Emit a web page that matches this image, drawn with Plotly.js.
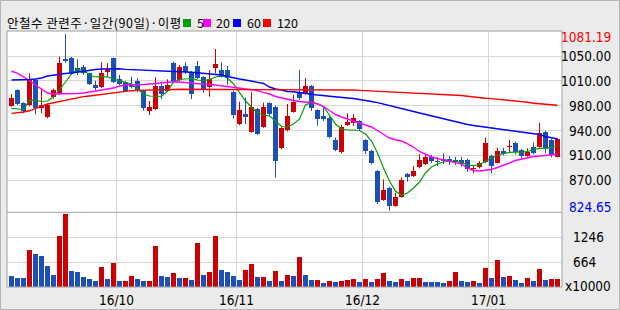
<!DOCTYPE html>
<html><head><meta charset="utf-8">
<script src="https://cdn.plot.ly/plotly-3.0.1.min.js"></script>
<style>html,body{margin:0;padding:0;background:#ebebeb;}#chart{width:620px;height:310px;}</style>
</head><body><div id="chart"></div>
<script>
// ---- data ----
const opens = [977.1,999.9,980.6,978.1,1014.4,973.3,961.1,989.3,995.9,1044.9,
1046.8,1031.4,1033.7,1024.1,1007.1,1004.7,1026.5,1046.3,1015.9,1011.9,
1008.2,1012.9,998.9,969.9,972.3,1005.7,998.4,1039.5,1014.4,1034.7,
1026.5,1034.7,1018.3,1004.7,1032.2,1028.9,1028.9,997.4,950.5,965.0,
939.4,972.3,946.6,980.6,975.6,916.1,941.8,968.4,997.4,994.1,
1005.7,970.9,962.1,959.2,927.3,909.9,949.1,952.4,954.9,927.3,
911.8,882.7,840.2,858.0,831.9,845.0,877.9,875.0,887.6,892.5,
903.0,896.8,899.7,899.7,898.3,898.3,898.3,884.8,887.6,895.8,
904.1,894.3,911.3,917.2,923.4,912.8,904.5,916.7,917.6,939.4,
928.0,903.0];
const highs = [994.1,1001.0,982.0,1024.1,1016.0,1000.9,980.0,1002.0,1048.2,1081.19,
1048.0,1044.4,1036.2,1025.0,1013.4,1040.1,1038.7,1047.0,1021.7,1013.0,
1019.2,1016.9,1000.0,983.9,1018.3,1012.0,1015.4,1041.0,1036.2,1040.1,
1027.5,1042.0,1020.0,1028.9,1059.4,1040.1,1034.7,999.0,982.9,988.7,
997.4,974.0,981.4,982.0,977.0,946.0,979.6,992.6,1028.9,1017.3,
1007.0,972.0,975.6,961.0,930.6,949.1,966.0,965.0,956.0,928.5,
913.0,884.0,870.2,859.5,850.8,873.1,879.4,889.6,906.9,906.9,
905.5,902.5,908.0,904.0,902.8,902.8,900.0,891.0,896.8,930.6,
906.0,916.1,916.1,927.3,925.0,914.0,915.2,923.4,952.4,941.0,
929.0,930.0];
const lows = [975.6,978.0,966.0,976.0,964.6,966.0,959.0,987.0,993.0,1039.0,
1022.0,1021.7,1022.0,1007.0,999.9,1003.0,1019.2,1010.0,1007.0,997.0,
1002.3,997.0,969.9,963.6,971.0,986.8,997.0,1009.7,1013.0,1023.1,
986.8,1016.0,996.0,990.2,1024.1,1018.0,1007.1,958.8,949.0,950.5,
938.0,934.6,945.0,961.1,872.6,914.0,940.0,967.0,985.4,992.6,
969.4,948.0,955.0,929.8,911.0,908.0,947.6,947.6,940.8,907.0,
892.0,834.4,839.0,824.65,830.5,843.6,866.8,873.6,886.2,891.0,
894.0,889.5,892.5,891.0,891.0,888.5,881.2,878.9,886.0,894.0,
879.0,893.0,905.0,909.9,906.5,900.7,903.0,906.5,916.0,908.0,
902.2,902.0];
const closes = [987.8,979.6,969.8,1014.4,973.3,978.1,978.1,999.9,1039.5,1042.4,
1024.1,1026.5,1024.1,1008.6,1002.3,1025.0,1028.9,1011.5,1008.6,998.9,
1004.7,998.4,974.2,975.2,1005.7,994.1,1007.1,1013.4,1033.7,1026.5,
994.1,1017.7,1000.9,1015.4,1037.6,1019.2,1020.6,963.6,970.9,961.1,
975.6,936.0,975.6,965.0,896.8,944.3,962.1,982.9,988.7,1005.7,
974.2,957.8,957.8,931.7,912.8,946.1,953.9,958.8,942.8,911.8,
894.4,837.7,854.7,831.9,845.0,869.2,873.1,882.7,898.3,902.2,
897.2,895.4,897.2,896.8,895.9,892.0,885.2,886.2,893.5,923.4,
890.0,911.3,906.9,918.6,909.4,904.5,909.4,908.0,937.9,913.8,
905.5,928.7];
const volumes = [352,306,300,957,864,818,585,375,1283,1795,
468,445,329,282,236,562,282,655,236,240,
352,282,236,240,1050,352,329,422,306,310,
259,1120,375,445,1283,492,445,352,259,492,
631,329,333,236,468,236,375,352,794,375,
259,263,189,236,212,236,259,282,212,282,
212,282,422,236,212,282,236,306,310,212,
200,195,190,236,445,236,212,236,189,538,
306,725,329,352,259,189,306,236,515,259,
270,280];
const ma5 = [973.3,972.3,971.6,984.7,984.7,983.2,983.9,989.7,999.9,1011.5,
1023.1,1029.6,1028.9,1021.7,1018.8,1018.8,1018.8,1015.9,1013.7,1011.5,
1008.6,1001.3,994.1,991.2,990.5,990.5,998.4,1011.5,1015.1,1015.9,
1016.6,1014.4,1013.4,1015.1,1018.8,1020.6,1017.3,1008.6,997.0,983.9,
975.2,966.5,963.6,962.1,954.9,946.9,946.2,950.5,957.8,978.1,
981.8,980.3,975.9,963.6,950.5,943.3,941.8,941.8,941.1,936.0,
925.8,908.4,886.6,867.8,853.3,847.4,850.4,857.6,866.3,879.4,
888.1,892.4,895.4,896.8,896.4,894.6,891.0,890.0,891.7,896.1,
901.2,904.8,907.7,909.4,909.4,909.4,910.3,913.5,915.2,915.2,
916.7,918.6];
const ma20 = [1027.5,1023.9,1018.8,1013.7,1007.1,1001.3,995.5,994.1,994.1,994.1,
994.1,994.8,995.5,997.0,998.4,999.9,1001.3,1002.8,1005.7,1007.1,
1007.9,1007.1,1007.6,1008.2,1009.3,1010.5,1011.5,1011.9,1011.5,1010.5,
1009.6,1008.6,1008.3,1008.2,1007.1,1006.4,1005.0,1004.0,1003.0,1001.8,
1000.6,999.2,996.5,994.1,990.5,988.3,986.1,984.7,983.2,982.5,
981.8,979.6,975.9,970.1,964.3,960.7,957.8,954.9,952.0,949.1,
946.2,941.1,936.0,930.2,927.7,925.8,921.5,917.1,910.6,907.0,
902.6,900.4,898.3,896.1,894.6,892.4,886.6,883.0,882.3,883.0,
884.5,887.4,890.3,893.9,897.6,899.7,901.2,903.3,904.1,905.5,
905.9,906.5];
const ma60 = [1014.4,1014.4,1014.4,1015.1,1015.9,1017.3,1020.2,1021.7,1022.4,1023.9,
1024.6,1026.0,1027.5,1028.2,1029.6,1030.4,1030.8,1031.1,1030.8,1029.9,
1029.6,1029.2,1028.9,1028.6,1028.2,1027.9,1027.5,1027.2,1026.6,1026.0,
1025.6,1025.0,1024.2,1023.1,1022.4,1021.7,1019.5,1017.3,1015.9,1014.4,
1013.0,1011.5,1009.3,1004.2,1001.3,999.9,997.7,997.4,996.5,995.5,
993.7,992.6,991.6,990.5,989.4,989.0,988.3,987.6,986.4,984.7,
983.2,981.5,979.6,977.4,975.6,973.3,970.9,968.7,966.5,964.3,
962.1,960.0,957.8,955.6,953.9,952.0,949.8,948.4,947.2,946.2,
945.0,944.0,943.0,941.8,940.4,939.4,938.2,937.0,935.3,932.4,
930.2,928.8];
const ma120 = [966.0,966.5,968.0,969.7,973.0,976.7,979.6,981.3,983.2,984.7,
986.1,988.3,990.2,991.2,992.4,993.3,994.4,995.8,997.0,998.0,
998.9,999.3,999.7,999.9,999.9,1000.2,1000.3,1000.6,1000.9,1000.9,
1000.9,1000.9,1000.9,1000.9,1000.9,1000.9,1000.9,1000.9,1000.9,1000.9,
1000.9,1000.9,1000.9,1000.9,1000.9,1000.9,1000.9,1000.9,1000.9,1000.9,
1000.9,1000.9,1000.9,1000.9,1000.9,1000.6,1000.3,999.9,999.4,999.0,
998.4,998.1,997.7,997.4,997.0,996.5,996.1,995.2,994.8,994.5,
994.1,994.1,994.1,993.8,992.6,991.9,990.9,989.7,988.9,988.0,
987.3,986.6,985.7,984.9,984.4,983.2,982.1,980.7,980.0,979.1,
978.4,977.8];
const monthStarts = [18,38,59,80];
const monthLabels = ['16/10','16/11','16/12','17/01'];
const priceGrid = [1049.2,1013.0,977.1,940.8,905.1,869.2];
const priceGridLabels = ['1050.00','1010.00','980.00','940.00','910.00','870.00'];
const priceMax = 1081.19, priceMin = 824.65;
const volGrid = [664,1246];
const volGridLabels = ['664','1246'];
const volUnit = 'x10000';
const titleText = '안철수 관련주·일간(90일)·이평';
const maNames = ['5','20','60','120'];

// ---- styles ----
const UP = '#cc0000', DOWN = '#1c4fb8';
const maColors = ['#00a000','#ff00ff','#0000ff','#ff0000'];
const GRID = '#d6d6d6', FRAME = '#a0a0a0';
const numFont = "'Liberation Sans Narrow','DejaVu Sans Condensed','Arial Narrow','Liberation Sans',sans-serif";
const korFont = "'Noto Sans CJK KR','Noto Sans',sans-serif";
// legend layout (pixel positions of swatch left edges and label left edges)
const legendSwatchX = [183, 203, 233, 263];
const legendLabelX = [194.5, 214, 245, 275];

const idx = closes.map((_, i) => i);
const minH = 1.2;
const traces = [];

// wicks
[true, false].forEach(up => {
  const xs = [], ys = [];
  idx.forEach(i => {
    if ((closes[i] >= opens[i]) === up) { xs.push(i, i, null); ys.push(lows[i], highs[i], null); }
  });
  traces.push({type:'scatter', mode:'lines', x:xs, y:ys, xaxis:'x', yaxis:'y',
    line:{color: up ? UP : DOWN, width:1}, hoverinfo:'skip'});
});
// bodies
[true, false].forEach(up => {
  const xs = [], bs = [], hs = [];
  idx.forEach(i => {
    if ((closes[i] >= opens[i]) === up) {
      xs.push(i);
      bs.push(Math.min(opens[i], closes[i]));
      hs.push(Math.max(Math.abs(closes[i] - opens[i]), minH));
    }
  });
  traces.push({type:'bar', x:xs, y:hs, base:bs, width:5/6, xaxis:'x', yaxis:'y',
    marker:{color: up ? UP : DOWN, line:{width:0}}, hoverinfo:'skip'});
});
// moving averages
[ma5, ma20, ma60, ma120].forEach((m, k) => {
  traces.push({type:'scatter', mode:'lines', x:idx, y:m, xaxis:'x', yaxis:'y',
    line:{color:maColors[k], width: k === 0 ? 1.2 : 1.4}, hoverinfo:'skip'});
});
// volume
traces.push({type:'bar', x:idx, y:volumes, width:5/6, xaxis:'x', yaxis:'y2',
  marker:{color: volumes.map((v, i) => (i > 0 && v > volumes[i-1]) ? UP : DOWN), line:{width:0}},
  hoverinfo:'skip'});

// ---- layout ----
const L = 7, R = 58, T = 31, B = 23, W = 620, H = 310;
const pw = W - L - R, ph = H - T - B;
const px2x = p => (p - L) / pw;
const py2y = p => (H - B - p) / ph;
const split = py2y(212.3);

const annotations = [];
annotations.push({xref:'paper', yref:'paper', x:px2x(5), y:py2y(22.5), xanchor:'left', yanchor:'middle',
  text:'<span style="letter-spacing:0.5px">' + titleText + '</span>', showarrow:false,
  font:{family:korFont, size:12.5, color:'#000'}});
maNames.forEach((n, k) => annotations.push({xref:'paper', yref:'paper', x:px2x(legendLabelX[k]), y:py2y(22.5),
  xanchor:'left', yanchor:'middle', text:n, showarrow:false, font:{family:korFont, size:12.5, color:'#000'}}));
priceGrid.forEach((v, k) => annotations.push({xref:'paper', yref:'y', x:px2x(612.5), y:v,
  xanchor:'right', yanchor:'middle', text:priceGridLabels[k], showarrow:false,
  font:{family:numFont, size:13.5, color:'#000'}}));
annotations.push({xref:'paper', yref:'y', x:px2x(612.5), y:priceMax, yshift:-3, xanchor:'right', yanchor:'middle',
  text:priceMax.toFixed(2), showarrow:false, font:{family:numFont, size:13.5, color:'#ff0000'}});
annotations.push({xref:'paper', yref:'y', x:px2x(612.5), y:priceMin, yshift:4, xanchor:'right', yanchor:'middle',
  text:priceMin.toFixed(2), showarrow:false, font:{family:numFont, size:13.5, color:'#0000ff'}});
volGrid.forEach((v, k) => annotations.push({xref:'paper', yref:'y2', x:px2x(570.5), y:v,
  xanchor:'left', yanchor:'middle', text:volGridLabels[k], showarrow:false,
  font:{family:numFont, size:13.5, color:'#000'}}));
annotations.push({xref:'paper', yref:'paper', x:px2x(612.5), y:py2y(286), xanchor:'right', yanchor:'middle',
  text:volUnit, showarrow:false, font:{family:numFont, size:13.5, color:'#000'}});
monthStarts.forEach((m, k) => annotations.push({xref:'x', yref:'paper', x:m - 0.5, y:py2y(300),
  xanchor:'center', yanchor:'middle', text:monthLabels[k], showarrow:false,
  font:{family:numFont, size:13.5, color:'#000'}}));

const shapes = [
  {type:'rect', xref:'paper', yref:'paper', x0:0, x1:1, y0:0, y1:1, line:{color:FRAME, width:1}},
  {type:'line', xref:'paper', yref:'paper', x0:0, x1:1, y0:split, y1:split, line:{color:FRAME, width:1}},
  {type:'rect', xref:'paper', yref:'paper', x0:px2x(0.5), x1:px2x(619.5), y0:py2y(309.5), y1:py2y(0.5),
    line:{color:'#b4b4b4', width:1}}
];
legendSwatchX.forEach((sx, k) => shapes.push({type:'rect', xref:'paper', yref:'paper',
  x0:px2x(sx), x1:px2x(sx + 8), y0:py2y(27), y1:py2y(19), fillcolor:maColors[k], line:{width:0}}));

const layout = {
  width:W, height:H, margin:{l:L, r:R, t:T, b:B, pad:0},
  paper_bgcolor:'#ebebeb', plot_bgcolor:'#ffffff',
  showlegend:false, barmode:'overlay', hovermode:false, bargap:0,
  xaxis:{range:[-0.75, 91.75], anchor:'y2', tickvals:monthStarts.map(m => m - 0.5),
    showticklabels:false, ticks:'', showgrid:true, gridcolor:GRID, gridwidth:1,
    zeroline:false, showline:false, fixedrange:true},
  yaxis:{domain:[split, 1], range:[822.33, 1085.54], tickvals:priceGrid, showticklabels:false,
    ticks:'', showgrid:true, gridcolor:GRID, gridwidth:1, zeroline:false, showline:false, fixedrange:true},
  yaxis2:{domain:[0, split], range:[89, 1828], tickvals:volGrid, showticklabels:false,
    ticks:'', showgrid:true, gridcolor:GRID, gridwidth:1, zeroline:false, showline:false, fixedrange:true},
  shapes:shapes, annotations:annotations
};

Plotly.newPlot('chart', traces, layout, {staticPlot:true, displayModeBar:false});
</script>
</body></html>
